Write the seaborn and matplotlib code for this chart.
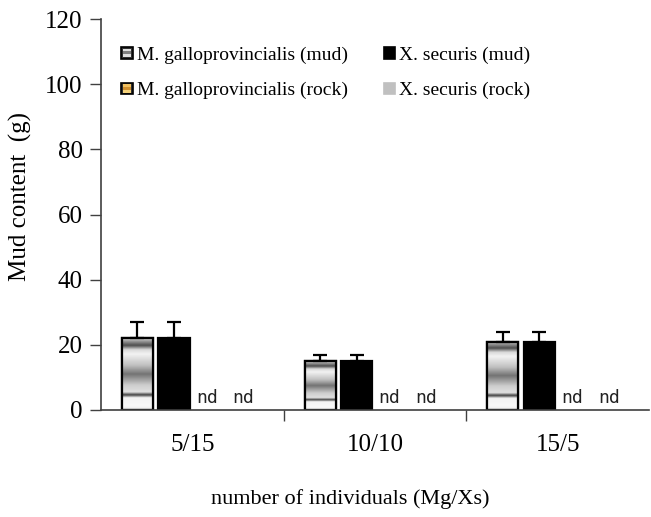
import numpy as np
import pandas as pd
import matplotlib
matplotlib.use("Agg")
import matplotlib.pyplot as plt
import seaborn as sns
from matplotlib.patches import Rectangle
from matplotlib.legend_handler import HandlerBase

# ---- data ----
categories = ["5/15", "10/10", "15/5"]
series = ["M. galloprovincialis (mud)", "X. securis (mud)",
          "M. galloprovincialis (rock)", "X. securis (rock)"]
mg_mud = [22, 15, 21]
xs_mud = [22, 15, 21]
mg_rock = [0, 0, 0]
xs_rock = [0, 0, 0]
mg_mud_err = [5, 2, 3]
xs_mud_err = [5, 2, 3]
not_detected = [False, False, True, True]  # per series: rock series "nd"
nd_label = "nd"
y_ticks = [0, 20, 40, 60, 80, 100, 120]

values = [mg_mud, xs_mud, mg_rock, xs_rock]
errors = [mg_mud_err, xs_mud_err, [0, 0, 0], [0, 0, 0]]

df = pd.DataFrame({
    "category": np.repeat([categories], 4, axis=0).ravel(),
    "series": np.repeat(series, 3),
    "value": np.concatenate(values),
})

colors = {"M. galloprovincialis (mud)": "#a0a0a0",
          "X. securis (mud)": "#000000",
          "M. galloprovincialis (rock)": "#d9a441",
          "X. securis (rock)": "#c0c0c0"}

sns.set_style("white")
plt.rcParams["font.family"] = ["Liberation Serif", "DejaVu Serif"]
plt.rcParams["text.color"] = "black"
plt.rcParams["xtick.color"] = "black"
plt.rcParams["ytick.color"] = "black"
plt.rcParams["axes.labelcolor"] = "black"

fig = plt.figure(figsize=(6.51, 5.17), dpi=100)
ax = fig.add_axes([0.155, 0.207, 0.842, 0.756])

sns.barplot(data=df, x="category", y="value", hue="series",
            order=categories, hue_order=series, palette=colors,
            width=0.8, gap=0.15, edgecolor="black", linewidth=1.6,
            errorbar=None, legend=False, ax=ax)

# gradient band profile (bottom -> top) for banded bars
prof_pos = [0.0, 0.03, 0.06, 0.17, 0.21, 0.25, 0.35, 0.5, 0.62, 0.78, 0.84, 0.9, 0.96, 1.0]
prof_val = [0.75, 0.95, 0.97, 0.95, 0.25, 0.88, 0.8, 0.45, 0.75, 0.95, 0.85, 0.3, 0.6, 0.85]
grad = np.interp(np.linspace(0, 1, 200), prof_pos, prof_val)[::-1].reshape(-1, 1)

bars = ax.patches
for si, s in enumerate(series):
    for ci in range(len(categories)):
        p = bars[si * len(categories) + ci]
        x0, w = p.get_x(), p.get_width()
        h = p.get_height()
        xc = x0 + w / 2
        if h == 0:
            p.set_visible(False)
        if si == 0 and h > 0:
            im = ax.imshow(grad, cmap="gray", vmin=0, vmax=1, aspect="auto",
                           extent=[x0, x0 + w, 0, h], zorder=p.get_zorder() + 0.1,
                           interpolation="bilinear")
            im.set_clip_path(p)
            ax.add_patch(Rectangle((x0, 0), w, h, fill=False, edgecolor="black",
                                   linewidth=1.6, zorder=p.get_zorder() + 0.2))
        err = errors[si][ci]
        if err > 0:
            ax.errorbar(xc, h, yerr=[[0], [err]], fmt="none", ecolor="black",
                        elinewidth=1.6, capsize=5, capthick=1.6, zorder=5)
        if not_detected[si]:
            ax.text(xc - 0.02, 0.8, nd_label, ha="center", va="bottom",
                    fontsize=13, family="DejaVu Sans Mono", color="#222222")

ax.set_xlim(-0.5, 2.5)
ax.set_ylim(0, 120)
ax.set_yticks(y_ticks)
ax.set_yticklabels([str(t) for t in y_ticks], fontsize=18)
ax.set_xticks([0.5, 1.5])
ax.set_xticklabels([])
ax.set_xticks([0, 1, 2], minor=True)
ax.set_xticklabels(categories, minor=True, fontsize=18)
ax.tick_params(axis="x", which="major", direction="out", length=8, width=1, color="#404040", bottom=True)
ax.tick_params(axis="x", which="minor", length=0, pad=17)
ax.tick_params(axis="y", direction="out", length=8, width=1, color="#404040", left=True, pad=5)
for side in ["top", "right"]:
    ax.spines[side].set_visible(False)
for side in ["left", "bottom"]:
    ax.spines[side].set_color("#404040")
    ax.spines[side].set_linewidth(1.2)

ax.set_xlabel("number of individuals (Mg/Xs)", fontsize=16)
ax.set_ylabel("Mud content  (g)", fontsize=18)
ax.xaxis.set_label_coords(0.455, -0.202)
ax.yaxis.set_label_coords(-0.126, 0.545)


class BandHandler(HandlerBase):
    def __init__(self, base, bands, edge="black"):
        super().__init__()
        self.base = base
        self.bands = bands
        self.edge = edge

    def create_artists(self, legend, orig_handle, xdescent, ydescent, width, height, fontsize, trans):
        s = min(width, height)
        x0 = -xdescent + width - s
        y0 = -ydescent + (height - s) / 2
        arts = [Rectangle((x0, y0), s, s, facecolor=self.base, edgecolor=self.edge,
                          linewidth=1.2, transform=trans)]
        n = len(self.bands)
        for i, c in enumerate(self.bands):
            arts.append(Rectangle((x0 + s * 0.15, y0 + s * (0.15 + 0.7 * i / n)), s * 0.7, s * 0.7 / n,
                                  facecolor=c, edgecolor="none", transform=trans))
        return arts


h_mg_mud = Rectangle((0, 0), 1, 1)
h_xs_mud = Rectangle((0, 0), 1, 1)
h_mg_rock = Rectangle((0, 0), 1, 1)
h_xs_rock = Rectangle((0, 0), 1, 1)
handler_map = {
    h_mg_mud: BandHandler("#303030", ["#e0e0e0", "#808080", "#e0e0e0"]),
    h_xs_mud: BandHandler("#000000", []),
    h_mg_rock: BandHandler("#303030", ["#f5d27a", "#d09030", "#f0c060"]),
    h_xs_rock: BandHandler("#c0c0c0", [], edge="#c0c0c0"),
}
handles = [h_mg_mud, h_mg_rock, h_xs_mud, h_xs_rock]
labels = [series[0], series[2], series[1], series[3]]
leg = ax.legend(handles, labels, handler_map=handler_map, ncol=2, loc="upper left",
                bbox_to_anchor=(0.005, 0.975), frameon=False, fontsize=14,
                handlelength=0.6, handleheight=0.6, handletextpad=0.2,
                columnspacing=1.85, labelspacing=0.95)
fig.savefig("out.png", dpi=100)
